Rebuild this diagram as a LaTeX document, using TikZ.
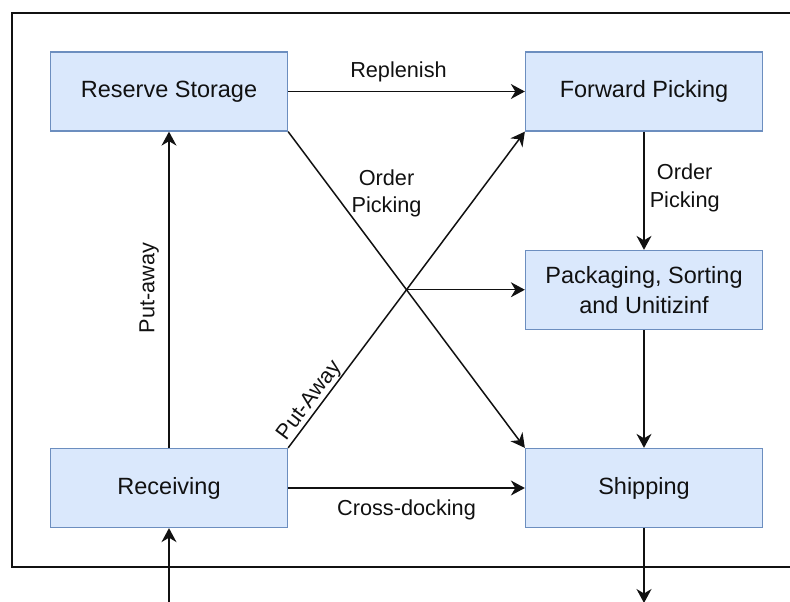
\documentclass[tikz,border=0pt]{standalone}
\usepackage{fontspec}
\setmainfont{Liberation Sans}
\usetikzlibrary{arrows.meta}
\definecolor{boxfill}{HTML}{DAE8FC}
\definecolor{boxline}{HTML}{6C8EBF}
\definecolor{ink}{HTML}{111111}
\begin{document}
\begin{tikzpicture}[x=1pt,y=-1pt,
  stage/.style={draw=boxline, fill=boxfill, line width=1.3pt,
    minimum width=237pt, minimum height=79pt, inner sep=0pt,
    text=ink, align=center, font=\fontsize{23.5}{30}\selectfont},
  flow/.style={line width=1.5pt, draw=ink,
    -{Stealth[length=14pt,width=15pt,inset=4.5pt]}},
  tag/.style={text=ink, inner sep=0pt, align=center,
    font=\fontsize{21.7}{27.5}\selectfont}]
\useasboundingbox (0,0) rectangle (790,602);

% open frame around the warehouse
\draw[line width=1.6pt, ink] (790,13) -- (12,13) -- (12,567) -- (790,567);

% warehouse areas
\node[stage] (rs) at (169,91.5) {Reserve Storage};
\node[stage] (fp) at (644,91.5) {Forward Picking};
\node[stage] (pk) at (644,290)  {Packaging, Sorting\\and Unitizinf};
\node[stage] (rc) at (169,488)  {Receiving};
\node[stage] (sh) at (644,488)  {Shipping};

% outside entry and exit
\coordinate (inflow)  at (169,602);
\coordinate (outflow) at (644,603);

% flows
\draw[flow] (rs.east) -- node[tag, anchor=base, yshift=14pt, xshift=-8pt] (lrep) {Replenish} (fp.west);
\draw[flow] (fp.south) -- node[tag, anchor=west, pos=0.477, xshift=5pt] (lop1) {Order\\Picking} (pk.north);
\draw[flow] (pk.south) -- (sh.north);
\draw[flow] (sh.south) -- (outflow);
\draw[flow] (inflow) -- (rc.south);
\draw[flow] (rc.north) -- node[tag, sloped, anchor=south, outer sep=10pt, pos=0.505] (lput1) {Put-away} (rs.south);
\draw[flow] (rc.east) -- node[tag, anchor=base, yshift=-27pt] (lcross) {Cross-docking} (sh.west);

% crossing diagonals
\draw[flow] (rs.south east) -- node[tag, pos=0.196, xshift=52pt] (lop2) {Order\\Picking} (sh.north west);
\draw[flow] (rc.north east) -- node[tag, sloped, anchor=south, outer sep=1pt, pos=0.128] (lput2) {Put-Away} (fp.south west);
\coordinate (cross) at (intersection of rs.south east--sh.north west and rc.north east--fp.south west);
\draw[flow] (cross) -- (cross -| pk.west);
\end{tikzpicture}
\end{document}
